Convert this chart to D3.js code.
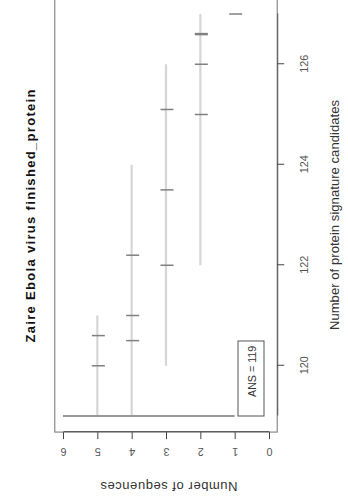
<!DOCTYPE html>
<html><head><meta charset="utf-8">
<script src="https://cdn.jsdelivr.net/npm/d3@7"></script>
<style>html,body{margin:0;padding:0;background:#fff;} svg{display:block;}</style>
</head><body>
<svg id="chart" width="348" height="504"></svg>
<script>
const title = "Zaire Ebola virus finished_protein";
const xLabel = "Number of protein signature candidates";
const yLabel = "Number of sequences";
const legendText = "ANS = 119";
const xTicks = [120, 122, 124, 126];
const yTicks = [0, 1, 2, 3, 4, 5, 6];
const xDataRange = [119, 127];
const yDataRange = [0, 6];
const ans = 119;
const ansSeqRange = [1, 6];
const rangeSeqs = [5, 4, 3, 2];
const rangeStart = [119, 119, 120, 122];
const rangeEnd = [121, 124, 126, 127];
const markSeqs = [5, 5, 4, 4, 4, 3, 3, 3, 2, 2, 2, 2, 1];
const markValues = [120, 120.6, 120.5, 121, 122.2, 122, 123.5, 125.1, 125, 126, 126.59, 126.61, 127];

const svg = d3.select("#chart");
const g = svg.append("g").attr("transform", "translate(0,504) rotate(-90)");

const x = d3.scaleLinear().domain(xDataRange).range([88, 490]);
const y = d3.scaleLinear().domain(yDataRange).range([269, 63]);

const xPad = (xDataRange[1] - xDataRange[0]) * 0.04;
const yPad = (yDataRange[1] - yDataRange[0]) * 0.04;
const bx0 = x(xDataRange[0] - xPad), bx1 = x(xDataRange[1] + xPad);
const by0 = y(yDataRange[1] + yPad), by1 = y(yDataRange[0] - yPad);

const font = "'Liberation Sans', Arial, Helvetica, sans-serif";

// range lines
g.append("g").selectAll("line").data(rangeSeqs).join("line")
  .attr("x1", (d, i) => x(rangeStart[i])).attr("x2", (d, i) => x(rangeEnd[i]))
  .attr("y1", d => y(d)).attr("y2", d => y(d))
  .attr("stroke", "#d6d6d6").attr("stroke-width", 2.2);

// ANS line
g.append("line")
  .attr("x1", x(ans)).attr("x2", x(ans))
  .attr("y1", y(ansSeqRange[0])).attr("y2", y(ansSeqRange[1]))
  .attr("stroke", "#9a9a9a").attr("stroke-width", 2);

// marks
g.append("g").selectAll("line").data(markValues).join("line")
  .attr("x1", d => x(d)).attr("x2", d => x(d))
  .attr("y1", (d, i) => y(markSeqs[i]) - 5.5).attr("y2", (d, i) => y(markSeqs[i]) + 7.5)
  .attr("stroke", "#808080").attr("stroke-width", 1.5);

// box
g.append("rect").attr("x", bx0).attr("y", by0).attr("width", bx1 - bx0).attr("height", by1 - by0)
  .attr("fill", "none").attr("stroke", "#8a8a8a").attr("stroke-width", 1.2);

// x axis
const xAxis = g.append("g").attr("transform", `translate(0,${by1})`)
  .call(d3.axisBottom(x).tickValues(xTicks).tickSize(7).tickSizeOuter(0).tickPadding(16.5).tickFormat(d3.format("d")));
xAxis.select(".domain").attr("stroke", "#555");
xAxis.selectAll(".tick line").attr("stroke", "#444");
xAxis.selectAll("text").attr("font-family", font).attr("font-size", 10.8).attr("fill", "#555");

// y axis
const yAxis = g.append("g").attr("transform", `translate(${bx0},0)`)
  .call(d3.axisLeft(y).tickValues(yTicks).tickSize(7).tickSizeOuter(0).tickFormat(d3.format("d")));
yAxis.select(".domain").attr("stroke", "#555");
yAxis.selectAll(".tick line").attr("stroke", "#444");
yAxis.selectAll("text")
  .attr("x", 0).attr("dy", 0).attr("text-anchor", "middle")
  .attr("transform", `translate(${56.4 - bx0},0) rotate(-90)`)
  .attr("font-family", font).attr("font-size", 10.8).attr("fill", "#555");

// title
g.append("text").attr("x", 288).attr("y", 34.5).attr("text-anchor", "middle")
  .attr("font-family", font).attr("font-weight", "bold").attr("font-size", 13)
  .attr("textLength", 253).attr("lengthAdjust", "spacing").attr("fill", "#111").text(title);

// x label
g.append("text").attr("x", 289).attr("y", 338.5).attr("text-anchor", "middle")
  .attr("font-family", font).attr("font-size", 13)
  .attr("textLength", 230).attr("lengthAdjust", "spacing").attr("fill", "#333").text(xLabel);

// y label
g.append("text").attr("transform", `translate(22.3,${(by0 + by1) / 2 + 3}) rotate(-90)`)
  .attr("text-anchor", "middle")
  .attr("font-family", font).attr("font-size", 13)
  .attr("textLength", 137).attr("lengthAdjust", "spacing").attr("fill", "#333").text(yLabel);

// legend
const lg = g.append("g");
lg.append("rect").attr("x", x(ans)).attr("y", 238).attr("width", 75).attr("height", 26)
  .attr("fill", "none").attr("stroke", "#555").attr("stroke-width", 1);
lg.append("text").attr("x", x(ans) + 19).attr("y", 255.5)
  .attr("font-family", font).attr("font-size", 10.7).attr("fill", "#333").text(legendText);
</script>
</body></html>
